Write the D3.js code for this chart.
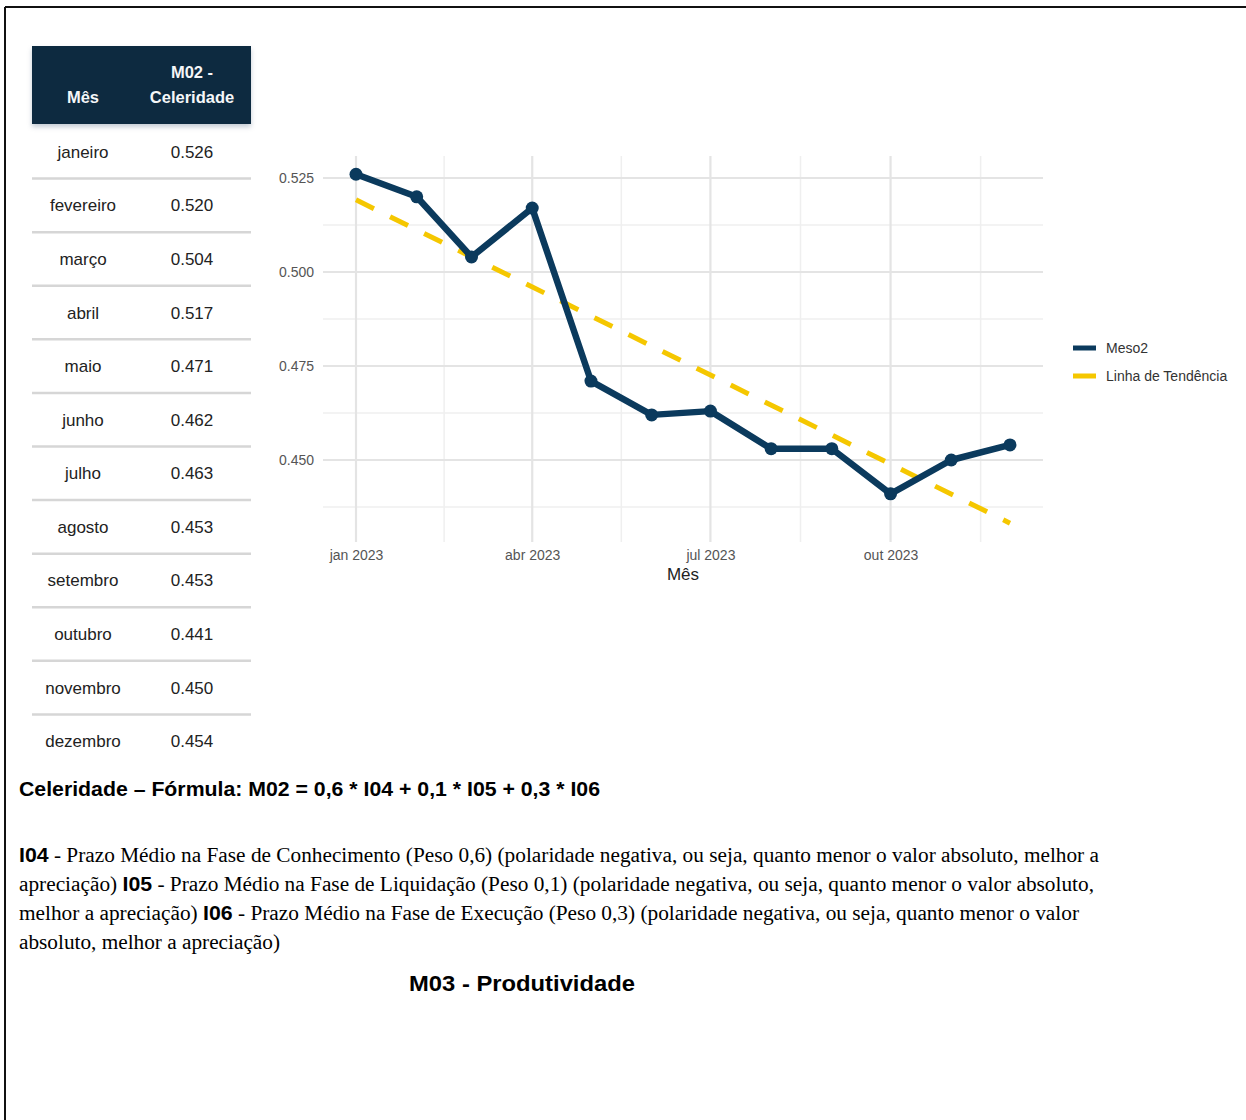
<!DOCTYPE html>
<html lang="pt-BR">
<head>
<meta charset="utf-8">
<script src="https://cdn.jsdelivr.net/npm/d3@7"></script>
<style>
  html, body { margin: 0; padding: 0; background: #fff; }
  svg { display: block; }
</style>
</head>
<body>
<svg id="page" width="1246" height="1120"></svg>
<script>
// Monthly celerity indicator (M02) for 2023
const monthNames = ["janeiro","fevereiro","março","abril","maio","junho",
                    "julho","agosto","setembro","outubro","novembro","dezembro"];
const celeridade = [0.526, 0.520, 0.504, 0.517, 0.471, 0.462,
                    0.463, 0.453, 0.453, 0.441, 0.450, 0.454];
// Linear trend line values at the first and last month
const trendValues = [0.5192, 0.4332];
const yTicks = [0.450, 0.475, 0.500, 0.525];
const yMinor = [0.4375, 0.4625, 0.4875, 0.5125];
const xTickLabels = ["jan 2023", "abr 2023", "jul 2023", "out 2023"];
const legendLabels = ["Meso2", "Linha de Tendência"];
const tableHeader = ["Mês", ["M02 -", "Celeridade"]];

const months = monthNames.map((_, i) => new Date(2023, i, 1));
const xTickDates = [new Date(2023,0,1), new Date(2023,3,1), new Date(2023,6,1), new Date(2023,9,1)];
const xMinorDates = [new Date(2023,1,15), new Date(2023,4,16,12), new Date(2023,7,16), new Date(2023,10,16)];

const NAVY = "#0b3a5d", GOLD = "#f5c700", HEAD = "#0c2a41";
const svg = d3.select("#page");

// page frame
svg.append("line").attr("x1", 5).attr("x2", 1246).attr("y1", 7).attr("y2", 7)
  .attr("stroke", "#111").attr("stroke-width", 2);
svg.append("line").attr("x1", 5).attr("x2", 5).attr("y1", 7).attr("y2", 1120)
  .attr("stroke", "#111").attr("stroke-width", 2);

// ---------- table ----------
const defs = svg.append("defs");
const f = defs.append("filter").attr("id", "hdrShadow").attr("x", "-5%").attr("y", "-5%")
  .attr("width", "110%").attr("height", "130%");
f.append("feDropShadow").attr("dx", 0).attr("dy", 3).attr("stdDeviation", 2.5)
  .attr("flood-color", "#7d8da0").attr("flood-opacity", 0.45);

const tbl = svg.append("g").attr("font-family", "Liberation Sans, Arial, sans-serif");
const tX0 = 32, tX1 = 251, colMes = 83, colVal = 192;
tbl.append("rect").attr("x", tX0).attr("y", 46).attr("width", tX1 - tX0).attr("height", 78)
  .attr("fill", HEAD).attr("filter", "url(#hdrShadow)");
tbl.append("text").attr("x", colMes).attr("y", 103).attr("text-anchor", "middle")
  .attr("fill", "#f4f6f8").attr("font-weight", "bold").attr("font-size", 16.5).text(tableHeader[0]);
tableHeader[1].forEach((t, i) => {
  tbl.append("text").attr("x", colVal).attr("y", 78 + i * 25).attr("text-anchor", "middle")
    .attr("fill", "#f4f6f8").attr("font-weight", "bold").attr("font-size", 16.5).text(t);
});

const rowScale = d3.scaleBand().domain(monthNames).range([125, 768]);
tbl.selectAll("line.sep").data(monthNames.slice(1)).join("line").attr("class", "sep")
  .attr("x1", tX0).attr("x2", tX1)
  .attr("y1", d => rowScale(d)).attr("y2", d => rowScale(d))
  .attr("stroke", "#d6d6d6").attr("stroke-width", 2.5);
const rows = tbl.selectAll("g.row").data(monthNames.map((m, i) => ({ m, v: celeridade[i] })))
  .join("g").attr("class", "row")
  .attr("transform", d => `translate(0,${rowScale(d.m) + rowScale.bandwidth() / 2 + 6})`);
rows.append("text").attr("x", colMes).attr("text-anchor", "middle").attr("font-size", 17)
  .attr("fill", "#222").text(d => d.m);
rows.append("text").attr("x", colVal).attr("text-anchor", "middle").attr("font-size", 17)
  .attr("fill", "#222").text(d => d3.format(".3f")(d.v));

// ---------- chart ----------
const x = d3.scaleTime().domain([months[0], months[11]]).range([356, 1010]);
const y = d3.scaleLinear().domain([0.450, 0.525]).range([460, 178]);
const panel = { x0: 323, x1: 1043, y0: 156, y1: 542 };

const chart = svg.append("g").attr("font-family", "Liberation Sans, Arial, sans-serif");
const grid = chart.append("g");
grid.selectAll("line.ymin").data(yMinor).join("line")
  .attr("x1", panel.x0).attr("x2", panel.x1).attr("y1", d => y(d)).attr("y2", d => y(d))
  .attr("stroke", "#efefef").attr("stroke-width", 1.5);
grid.selectAll("line.xmin").data(xMinorDates).join("line")
  .attr("y1", panel.y0).attr("y2", panel.y1).attr("x1", d => x(d)).attr("x2", d => x(d))
  .attr("stroke", "#efefef").attr("stroke-width", 1.5);
grid.selectAll("line.ymaj").data(yTicks).join("line")
  .attr("x1", panel.x0).attr("x2", panel.x1).attr("y1", d => y(d)).attr("y2", d => y(d))
  .attr("stroke", "#e4e4e4").attr("stroke-width", 2.2);
grid.selectAll("line.xmaj").data(xTickDates).join("line")
  .attr("y1", panel.y0).attr("y2", panel.y1).attr("x1", d => x(d)).attr("x2", d => x(d))
  .attr("stroke", "#e4e4e4").attr("stroke-width", 2.2);

// axes (labels only, no domain or tick marks)
const yAxis = chart.append("g").attr("transform", `translate(${panel.x0 - 5},0)`)
  .call(d3.axisLeft(y).tickValues(yTicks).tickSize(0).tickPadding(4).tickFormat(d3.format(".3f")));
const xAxis = chart.append("g").attr("transform", `translate(0,${panel.y1 + 4})`)
  .call(d3.axisBottom(x).tickValues(xTickDates).tickSize(0).tickPadding(4)
    .tickFormat((d, i) => xTickLabels[i]));
[yAxis, xAxis].forEach(a => {
  a.select(".domain").remove();
  a.selectAll("text").attr("font-size", 14).attr("fill", "#555")
    .attr("font-family", "Liberation Sans, Arial, sans-serif");
});
chart.append("text").attr("x", 683).attr("y", 580).attr("text-anchor", "middle")
  .attr("font-size", 17).attr("fill", "#222").text("Mês");

// trend line
chart.append("line")
  .attr("x1", x(months[0])).attr("y1", y(trendValues[0]))
  .attr("x2", x(months[11])).attr("y2", y(trendValues[1]))
  .attr("stroke", GOLD).attr("stroke-width", 5).attr("stroke-dasharray", "20 18");

// series line and points
const pts = months.map((d, i) => [d, celeridade[i]]);
chart.append("path").datum(pts)
  .attr("d", d3.line().x(d => x(d[0])).y(d => y(d[1])))
  .attr("fill", "none").attr("stroke", NAVY).attr("stroke-width", 6.5)
  .attr("stroke-linejoin", "round");
chart.selectAll("circle.pt").data(pts).join("circle").attr("class", "pt")
  .attr("cx", d => x(d[0])).attr("cy", d => y(d[1])).attr("r", 6.5).attr("fill", NAVY);

// legend
const legend = chart.append("g");
legendLabels.forEach((lab, i) => {
  const ly = 348 + i * 28;
  legend.append("line").attr("x1", 1073).attr("x2", 1096).attr("y1", ly).attr("y2", ly)
    .attr("stroke", i === 0 ? NAVY : GOLD).attr("stroke-width", 5);
  legend.append("text").attr("x", 1106).attr("y", ly + 5).attr("font-size", 14)
    .attr("fill", "#333").text(lab);
});

// ---------- description text ----------
const sans = "Liberation Sans, Arial, sans-serif";
const serif = "Liberation Serif, Times New Roman, serif";
svg.append("text").attr("x", 19).attr("y", 796).attr("font-family", sans)
  .attr("font-weight", "bold").attr("font-size", 20).attr("fill", "#000")
  .attr("textLength", 581).attr("lengthAdjust", "spacingAndGlyphs")
  .text("Celeridade – Fórmula: M02 = 0,6 * I04 + 0,1 * I05 + 0,3 * I06");

const paraLines = [
  { w: 1080, parts: [["I04", 1], [" - Prazo Médio na Fase de Conhecimento (Peso 0,6) (polaridade negativa, ou seja, quanto menor o valor absoluto, melhor a", 0]] },
  { w: 1075, parts: [["apreciação) ", 0], ["I05", 1], [" - Prazo Médio na Fase de Liquidação (Peso 0,1) (polaridade negativa, ou seja, quanto menor o valor absoluto,", 0]] },
  { w: 1060, parts: [["melhor a apreciação) ", 0], ["I06", 1], [" - Prazo Médio na Fase de Execução (Peso 0,3) (polaridade negativa, ou seja, quanto menor o valor", 0]] },
  { w: 261, parts: [["absoluto, melhor a apreciação)", 0]] }
];
paraLines.forEach((ln, i) => {
  const t = svg.append("text").attr("x", 19).attr("y", 862 + i * 29)
    .attr("font-size", 20).attr("fill", "#000")
    .attr("textLength", ln.w).attr("lengthAdjust", "spacingAndGlyphs");
  ln.parts.forEach(([s, b]) => {
    t.append("tspan").attr("font-family", b ? sans : serif)
      .attr("font-weight", b ? "bold" : "normal").text(s);
  });
});

svg.append("text").attr("x", 409).attr("y", 991).attr("font-family", sans)
  .attr("font-weight", "bold").attr("font-size", 22).attr("fill", "#000")
  .attr("textLength", 226).attr("lengthAdjust", "spacingAndGlyphs")
  .text("M03 - Produtividade");
</script>
</body>
</html>
